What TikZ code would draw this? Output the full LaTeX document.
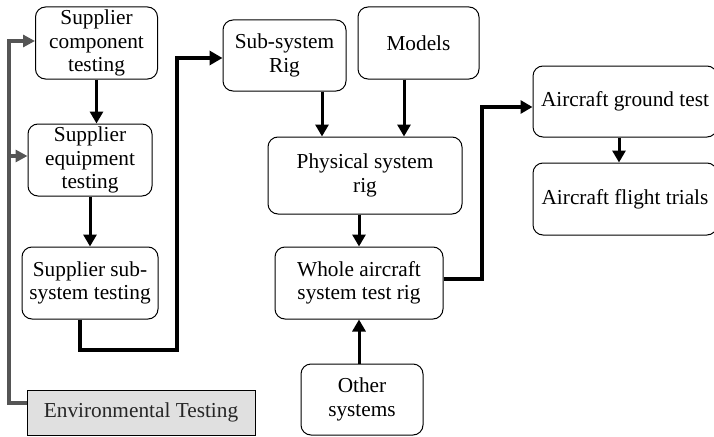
\documentclass[tikz,border=0pt]{standalone}
\usepackage{fontspec}
\setmainfont{Liberation Serif}
\usetikzlibrary{arrows.meta}
\definecolor{envfill}{HTML}{E0E0E0}
\definecolor{gline}{HTML}{555555}
\tikzset{
  box/.style={draw=black, line width=1pt, rounded corners=10pt, align=center, inner sep=0pt,
    font=\fontsize{21.3}{23.5}\selectfont},
  flow/.style={line width=3pt, -{Triangle[length=12pt,width=13pt]}},
  bigflow/.style={line width=4.5pt, -{Triangle[length=13pt,width=14pt]}},
  grayflow/.style={line width=4pt, draw=gline, -{Triangle[length=12pt,width=12pt]}, gline},
}
\begin{document}
\begin{tikzpicture}[x=1pt,y=-1pt]
\useasboundingbox (0,0) rectangle (714,436);
\clip (0,0) rectangle (714,436);
% boxes (centers from pixel extents)
\node[box, minimum width=122pt, minimum height=72pt] (comp) at (96.5,43) {Supplier\\component\\testing};
\node[box, minimum width=124pt, minimum height=72pt] (equip) at (90,160) {Supplier\\equipment\\testing};
\node[box, minimum width=136pt, minimum height=72pt] (sst) at (90,283) {Supplier sub-\\system testing};
\node[draw=black, line width=1pt, fill=envfill, text=black!85, minimum width=228pt, minimum height=45pt,
  inner sep=0pt, font=\fontsize{21.3}{23.5}\selectfont] (env) at (141,412.5) {Environmental Testing};
\node[box, minimum width=123pt, minimum height=71pt] (rig) at (284.5,55.5) {Sub-system\\Rig};
\node[box, minimum width=121pt, minimum height=72pt] (models) at (418.5,43) {Models};
\node[box, minimum width=194pt, minimum height=77pt] (phys) at (365,175.5) {Physical system\\rig};
\node[box, minimum width=168pt, minimum height=72pt] (whole) at (359,283) {Whole aircraft\\system test rig};
\node[box, minimum width=122pt, minimum height=71pt] (other) at (362,399.5) {Other\\systems};
\node[box, minimum width=184pt, minimum height=71pt] (ground) at (625,101.5) {Aircraft ground test};
\node[box, minimum width=184pt, minimum height=72pt] (flight) at (625,199) {Aircraft flight trials};
% helper coordinates
\coordinate (c1) at (177,350);
\coordinate (c2) at (482,279);
\coordinate (gc) at (9,403);
% connectors
\draw[flow] (comp.south) -- (comp.south |- equip.north);
\draw[flow] (equip.south) -- (equip.south |- sst.north);
\draw[bigflow] (sst.south -| 80,0) |- (c1) |- ([yshift=-2.5pt]rig.west);
\draw[flow] (rig.south -| 322,0) -- (322,0 |- phys.north);
\draw[flow] (models.south -| 404,0) -- (404,0 |- phys.north);
\draw[flow] (phys.south -| whole.north) -- (whole.north);
\draw[flow] (other.north -| whole.south) -- (whole.south);
\draw[line width=3.5pt, -{Triangle[length=12pt,width=13pt]}] ([yshift=4pt]whole.east) -| (c2) |- ([yshift=-5.5pt]ground.west);
\draw[flow] (ground.south -| 619,0) -- (619,0 |- flight.north);
\draw[grayflow] ([yshift=9.5pt]env.west) -- (gc) |- ([yshift=2pt]comp.west);
\draw[grayflow] (gc |- equip.west) ++(0,-4) -- ([yshift=4pt]equip.west);
\end{tikzpicture}
\end{document}
